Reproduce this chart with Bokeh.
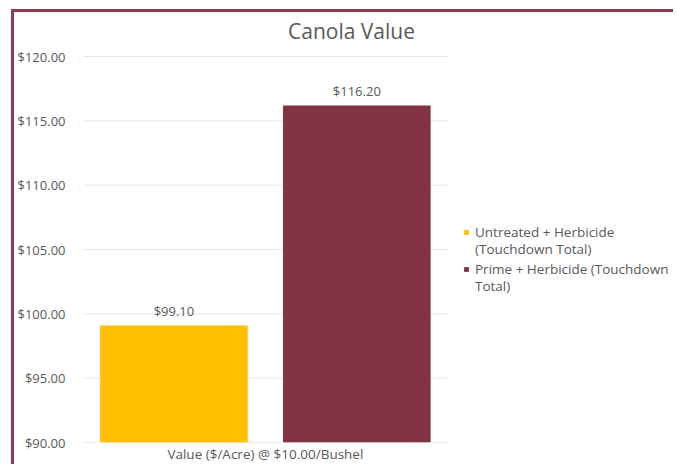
from bokeh.plotting import figure
from bokeh.models import ColumnDataSource, Range1d, NumeralTickFormatter, Legend, LegendItem, LabelSet, Label, FixedTicker
from bokeh.embed import file_html
from bokeh.resources import INLINE
from bokeh.core.properties import value

title_text = "Canola Value"
category = "Value ($/Acre) @ $10.00/Bushel"
series_names = [["Untreated + Herbicide", "(Touchdown Total)"], ["Prime + Herbicide (Touchdown", "Total)"]]
series_values = [99.10, 116.20]
series_colors = ["#FFC000", "#833244"]
bar_pos = [0.5, 1.5]
y_ticks = [90, 95, 100, 105, 110, 115, 120]

FONT = "Open Sans"
TXT = "#595959"
W, H = 662, 455
LEFT, TOP, BOTTOM = 66, 44, 25
PX_PER_UNIT_X = 183.5
FRAME_W = W - LEFT
FRAME_H = H - BOTTOM            # frame runs to the top edge; space above $120 kept for the title
PX_PER_UNIT_Y = (H - TOP - BOTTOM) / (y_ticks[-1] - y_ticks[0])

p = figure(width=W, height=H, x_range=Range1d(0, FRAME_W / PX_PER_UNIT_X),
           y_range=Range1d(y_ticks[0], y_ticks[0] + FRAME_H / PX_PER_UNIT_Y),
           output_backend="svg", toolbar_location=None,
           min_border_left=LEFT, min_border_right=0, min_border_top=0, min_border_bottom=BOTTOM)
p.styles = {"margin-left": "11px", "margin-top": "9px",
            "border-left": "3px solid #8E3A4F", "border-top": "3px solid #8E3A4F"}
p.outline_line_color = None

p.add_layout(Label(x=269, y=FRAME_H - 18, x_units="screen", y_units="screen", text=title_text,
                   text_align="center", text_baseline="middle", text_font=FONT,
                   text_font_size="21px", text_color=TXT))

# gridlines spanning only the category band
grid_src = ColumnDataSource(dict(x0=[0] * len(y_ticks), x1=[2] * len(y_ticks), y=y_ticks,
                                 c=["#D9D9D9"] + ["#E8E8E8"] * (len(y_ticks) - 1)))
p.segment(x0="x0", x1="x1", y0="y", y1="y", source=grid_src, line_color="c", line_width=1)

legend_line_y = [[201, 184], [164, 147]]
blank = p.vbar(x=[], top=[], width=0.1, fill_alpha=0, line_alpha=0)
for names, val, col, xp, ys in zip(series_names, series_values, series_colors, bar_pos, legend_line_y):
    src = ColumnDataSource(dict(x=[xp], v=[val], lbl=["${:,.2f}".format(val)]))
    r = p.vbar(x="x", top="v", bottom=90, width=0.807, source=src, fill_color=col, line_color=None)
    p.add_layout(LabelSet(x="x", y="v", text="lbl", source=src,
                          text_align="center", text_baseline="bottom", y_offset=5,
                          text_font=value(FONT), text_font_size="13px", text_color=TXT))
    for i, (nm, ly) in enumerate(zip(names, ys)):
        leg = Legend(items=[LegendItem(label=nm, renderers=[r if i == 0 else blank])],
                     location=(381, ly), label_text_font=FONT, label_text_font_size="13.5px",
                     label_text_color=TXT, glyph_width=6, glyph_height=6, spacing=0,
                     border_line_color=None, background_fill_alpha=0, label_standoff=6, padding=0,
                     margin=0, label_height=15)
        p.add_layout(leg)

p.yaxis.formatter = NumeralTickFormatter(format="$0.00")
p.yaxis.ticker = FixedTicker(ticks=y_ticks)
p.yaxis.axis_line_color = None
p.yaxis.major_tick_line_color = None
p.yaxis.minor_tick_line_color = None
p.yaxis.major_label_text_font = FONT
p.yaxis.major_label_text_font_size = "13px"
p.yaxis.major_label_text_color = TXT
p.yaxis.major_label_standoff = 11

p.xaxis.ticker = FixedTicker(ticks=[1])
p.xaxis.major_label_overrides = {1: category}
p.xaxis.axis_line_color = None
p.xaxis.major_tick_line_color = None
p.xaxis.minor_tick_line_color = None
p.xaxis.major_label_text_font = FONT
p.xaxis.major_label_text_font_size = "13.5px"
p.xaxis.major_label_text_color = TXT
p.xaxis.major_label_standoff = -4
p.xgrid.grid_line_color = None
p.ygrid.grid_line_color = None

open("out.html", "w").write(file_html(p, INLINE))
